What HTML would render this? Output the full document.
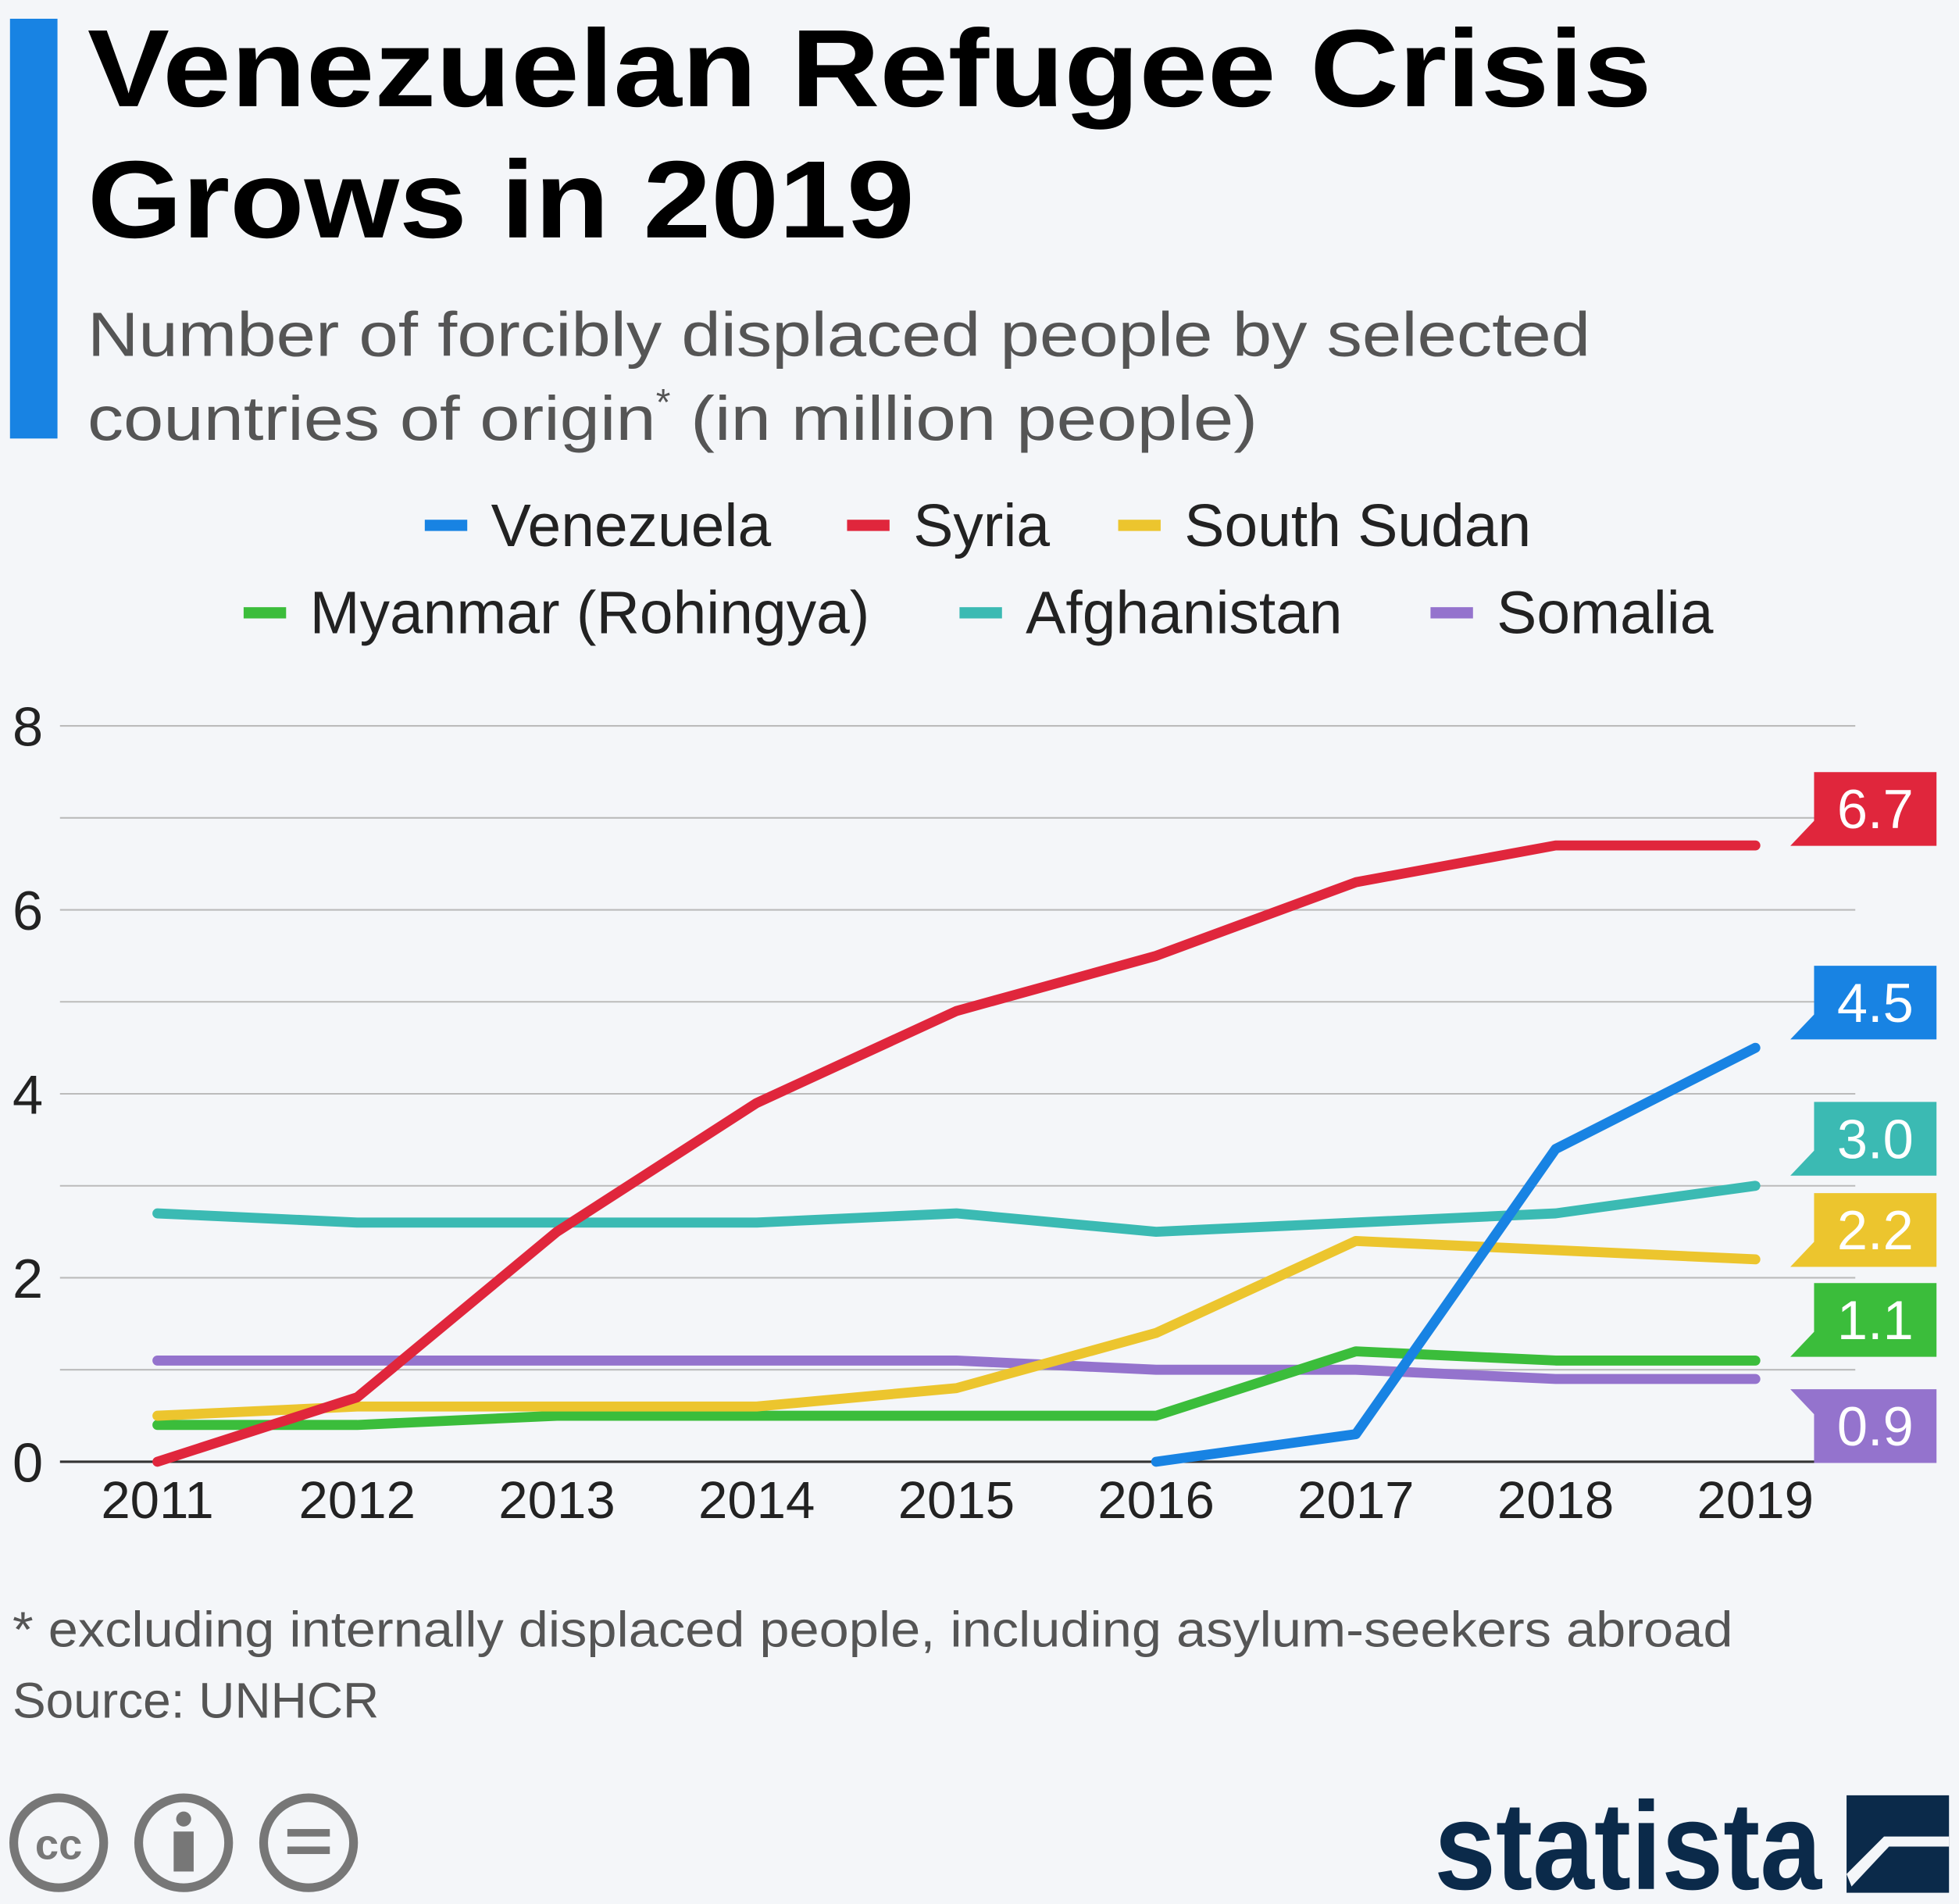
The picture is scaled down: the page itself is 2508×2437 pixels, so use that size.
<!DOCTYPE html>
<html><head><meta charset="utf-8"><style>
html,body{margin:0;padding:0;background:#f4f6f9;}
svg{display:block;font-family:"Liberation Sans",sans-serif;}
</style></head><body>
<svg id="chart" width="2508" height="2437" viewBox="0 0 1568 1524" preserveAspectRatio="none" xmlns="http://www.w3.org/2000/svg">
<rect width="1568" height="1524" fill="#f4f6f9"/>
<rect x="8" y="15" width="38" height="336" fill="#1883e3"/>
<text x="70" y="85" font-size="88" font-weight="bold" fill="#000" textLength="1252" lengthAdjust="spacingAndGlyphs">Venezuelan Refugee Crisis</text>
<text x="70" y="190" font-size="88" font-weight="bold" fill="#000" textLength="662" lengthAdjust="spacingAndGlyphs">Grows in 2019</text>
<text x="70" y="285" font-size="50" fill="#555" textLength="1203" lengthAdjust="spacingAndGlyphs">Number of forcibly displaced people by selected</text>
<text x="70" y="352" font-size="50" fill="#555"><tspan textLength="455" lengthAdjust="spacingAndGlyphs">countries of origin</tspan><tspan dy="-20" font-size="30">*</tspan><tspan dy="20" textLength="470" lengthAdjust="spacingAndGlyphs"> (in million people)</tspan></text>
<g id="legend"></g>
<g id="grid"></g>
<g id="series"></g>
<g id="labels"></g>
<text x="10" y="1318" font-size="40" fill="#555" textLength="1377" lengthAdjust="spacingAndGlyphs">* excluding internally displaced people, including asylum-seekers abroad</text>
<text x="10" y="1375" font-size="40" fill="#555">Source: UNHCR</text>
<g fill="none" stroke="#777" stroke-width="7">
<circle cx="47" cy="1475" r="36"/><circle cx="147" cy="1475" r="36"/><circle cx="247" cy="1475" r="36"/>
<text x="47" y="1488" font-size="34" font-weight="bold" fill="#777" stroke="none" text-anchor="middle">cc</text>
<circle cx="147" cy="1456" r="6" fill="#777" stroke="none"/>
<rect x="139" y="1466" width="16" height="32" fill="#777" stroke="none"/>
<rect x="230" y="1464" width="34" height="6" fill="#777" stroke="none"/>
<rect x="230" y="1478" width="34" height="6" fill="#777" stroke="none"/>
</g>
<text x="1148" y="1512" font-size="100" font-weight="bold" fill="#0b2a4a" textLength="310" lengthAdjust="spacingAndGlyphs">statista</text>
<g>
<rect x="1478" y="1437" width="82" height="78" fill="#0b2a4a"/>
<path d="M1482 1510 L1512 1478 L1560 1478 L1560 1470 L1508 1470 L1478 1500 Z" fill="#f4f6f9"/>
</g>
<script>
const years=["2011","2012","2013","2014","2015","2016","2017","2018","2019"];
const yTicks=[0,2,4,6,8];
const venezuela=[null,null,null,null,null,0,0.3,3.4,4.5];
const syria=[0,0.7,2.5,3.9,4.9,5.5,6.3,6.7,6.7];
const southSudan=[0.5,0.6,0.6,0.6,0.8,1.4,2.4,2.3,2.2];
const myanmar=[0.4,0.4,0.5,0.5,0.5,0.5,1.2,1.1,1.1];
const afghanistan=[2.7,2.6,2.6,2.6,2.7,2.5,2.6,2.7,3.0];
const somalia=[1.1,1.1,1.1,1.1,1.1,1.0,1.0,0.9,0.9];
const seriesNames=["Venezuela","Syria","South Sudan","Myanmar (Rohingya)","Afghanistan","Somalia"];
const labelTexts=["4.5","6.7","2.2","1.1","3.0","0.9"];

const NS="http://www.w3.org/2000/svg";
const colors=["#1883e3","#e0263c","#ecc52e","#3bbd3b","#3bbab3","#9473cd"];
const all=[venezuela,syria,southSudan,myanmar,afghanistan,somalia];
const x=i=>126+i*(1405-126)/(years.length-1);
const y=v=>1170-v*(1170-581)/8;
function mk(tag,attrs,parent){const e=document.createElementNS(NS,tag);for(const k in attrs)e.setAttribute(k,attrs[k]);parent.appendChild(e);return e;}
const grid=document.getElementById('grid');
for(let v=0;v<=8;v++){
  const l=mk('line',{x1:48,x2:1485,y1:y(v),y2:y(v),stroke:v===0?'#333':'#bbb','stroke-width':v===0?2:1.3},grid);
  
  
}
yTicks.forEach(v=>{
  const t=mk('text',{x:10,y:y(v)+16,'font-size':44,fill:'#222'},grid);t.textContent=v;
  
  
});
years.forEach((yr,i)=>{
  const t=mk('text',{x:x(i),y:1215,'font-size':42,fill:'#222','text-anchor':'middle'},grid);t.textContent=yr;
  
  
});
const sg=document.getElementById('series');
[5,3,2,4,1,0].forEach(s=>{
  const d=all[s];let pts=[];
  d.forEach((v,i)=>{if(v!==null)pts.push(x(i)+','+y(v));});
  const p=mk('polyline',{points:pts.join(' '),fill:'none',stroke:colors[s],'stroke-width':8,'stroke-linejoin':'round','stroke-linecap':'round'},sg);
  
  
});
const lg=document.getElementById('legend');
const legPos=[[340,420],[678,420],[895,420],[195,490],[768,490],[1145,490]];
seriesNames.forEach((n,i)=>{
  const g=mk('g',{},lg);
  
  
  mk('rect',{x:legPos[i][0],y:legPos[i][1]-4,width:34,height:9,fill:colors[i]},g);
  const t=mk('text',{x:legPos[i][0]+53,y:legPos[i][1]+17,'font-size':48,fill:'#222'},g);t.textContent=n;
});
const lb=document.getElementById('labels');
const boxTop=[773,618,955,1027,882,1112];
[1,0,4,2,3,5].forEach(s=>{
  const t0=boxTop[s],b=t0+59,c=colors[s];
  const d=s===5?`M1433 ${t0} L1452 ${t0} L1452 ${b} L1550 ${b} L1550 ${t0} L1452 ${t0} L1452 ${t0+20} Z`
               :`M1452 ${t0} L1550 ${t0} L1550 ${b} L1433 ${b} L1452 ${b-20} Z`;
  const g=mk('g',{},lb);
  
  
  mk('path',{d:d,fill:c},g);
  const t=mk('text',{x:1501,y:t0+45,'font-size':44,fill:'#fff','text-anchor':'middle'},g);t.textContent=labelTexts[s];
});
</script>
</svg>
</body></html>
